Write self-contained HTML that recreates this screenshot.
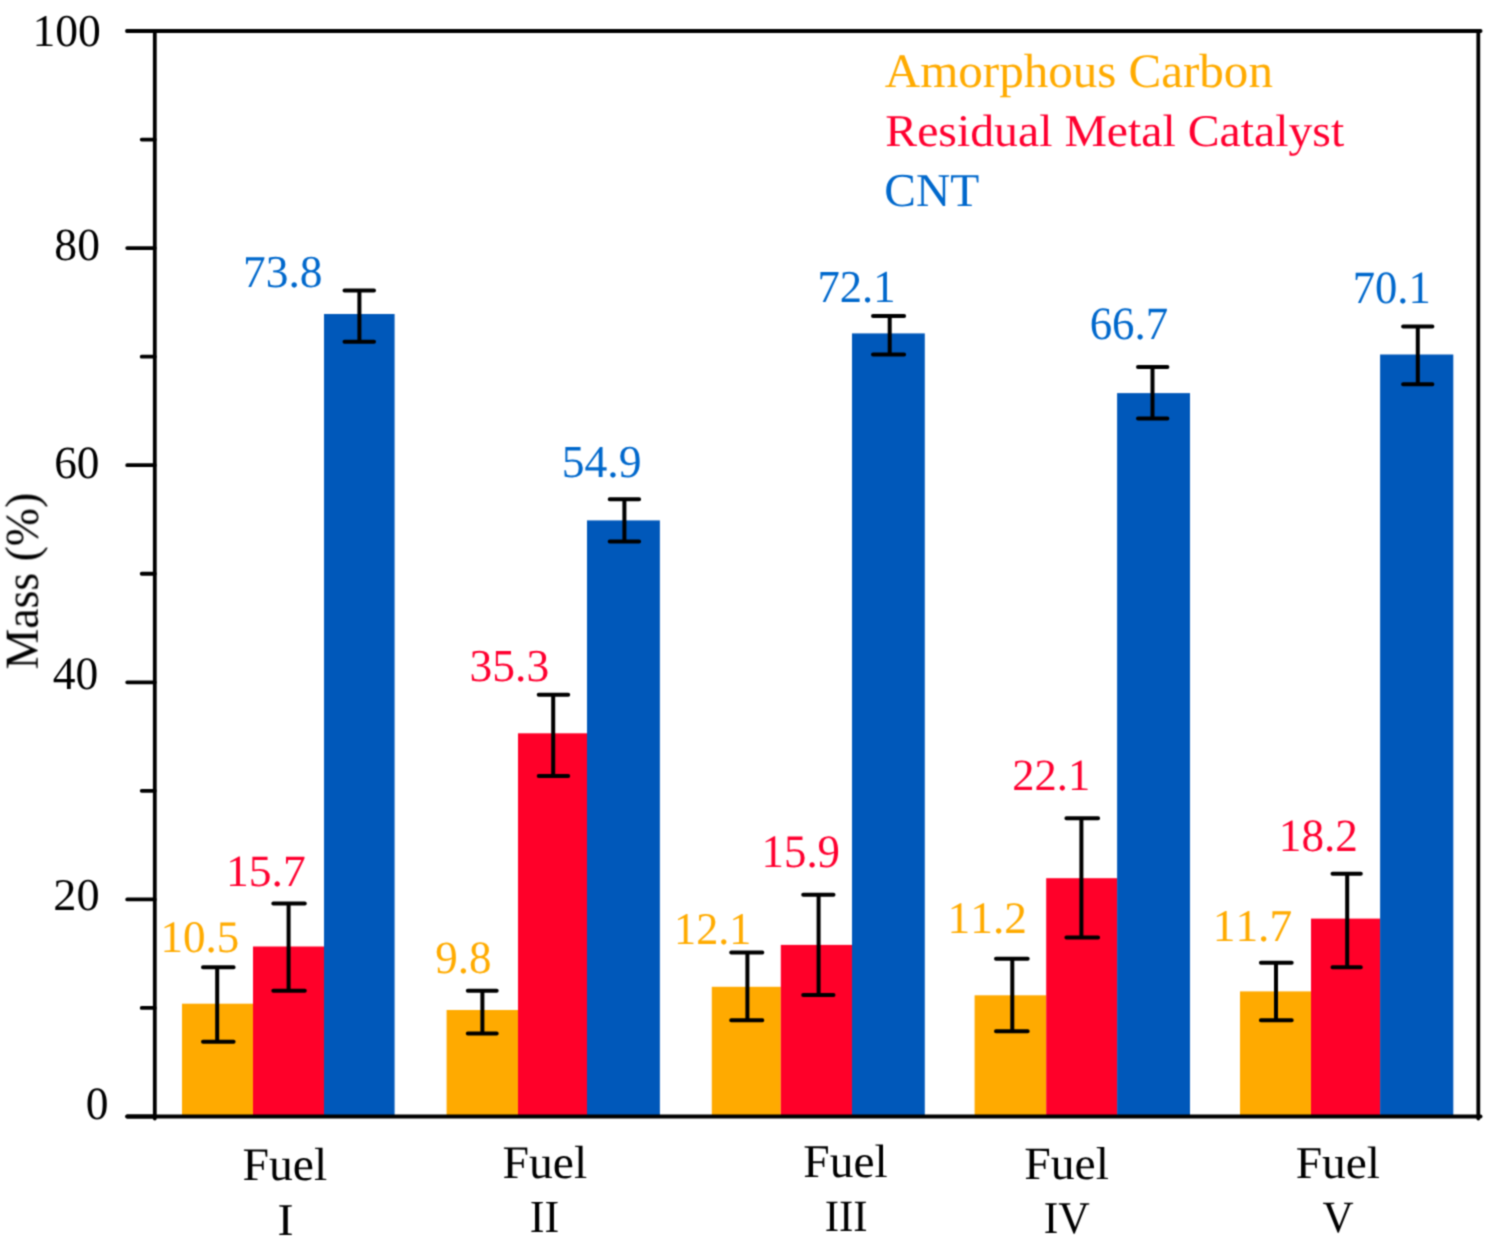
<!DOCTYPE html>
<html><head><meta charset="utf-8"><title>Mass chart</title>
<style>
html,body{margin:0;padding:0;background:#fff;}
body{width:1498px;height:1244px;overflow:hidden;}
svg{display:block;}
text{font-family:"Liberation Serif",serif;font-kerning:none;text-rendering:geometricPrecision;}
</style></head><body>
<svg width="1498" height="1244" viewBox="0 0 1498 1244">
<defs><filter id="soft" x="0" y="0" width="1498" height="1244" filterUnits="userSpaceOnUse" color-interpolation-filters="sRGB"><feConvolveMatrix order="3" kernelMatrix="0.04387 0.12171 0.04387 0.12171 0.33767 0.12171 0.04387 0.12171 0.04387" edgeMode="duplicate"/></filter></defs>
<g filter="url(#soft)">
<rect width="1498" height="1244" fill="#fff"/>
<rect x="182.0" y="1003.7" width="71.00" height="112.80" fill="#FFAA00"/>
<rect x="253.0" y="946.5" width="71.00" height="170.00" fill="#FF0029"/>
<rect x="324.0" y="314.0" width="70.60" height="802.50" fill="#0058BA"/>
<rect x="446.6" y="1010.0" width="71.40" height="106.50" fill="#FFAA00"/>
<rect x="518.0" y="733.3" width="69.00" height="383.20" fill="#FF0029"/>
<rect x="587.0" y="520.4" width="72.90" height="596.10" fill="#0058BA"/>
<rect x="711.8" y="986.8" width="69.00" height="129.70" fill="#FFAA00"/>
<rect x="780.8" y="944.9" width="71.20" height="171.60" fill="#FF0029"/>
<rect x="852.0" y="333.4" width="72.80" height="783.10" fill="#0058BA"/>
<rect x="974.6" y="995.3" width="71.60" height="121.20" fill="#FFAA00"/>
<rect x="1046.2" y="878.2" width="70.90" height="238.30" fill="#FF0029"/>
<rect x="1117.1" y="393.1" width="72.90" height="723.40" fill="#0058BA"/>
<rect x="1240.0" y="991.4" width="71.00" height="125.10" fill="#FFAA00"/>
<rect x="1311.0" y="918.6" width="69.10" height="197.90" fill="#FF0029"/>
<rect x="1380.1" y="354.5" width="73.20" height="762.00" fill="#0058BA"/>
<g stroke="#000" stroke-width="4.0" fill="none" stroke-linecap="round">
<path d="M217.2 967.2V1041.7M203.00 967.2H233.60M203.00 1041.7H233.60"/>
<path d="M288.6 903.4V990.7M273.30 903.4H304.80M273.30 990.7H304.80"/>
<path d="M359.4 290.6V341.7M344.50 290.6H374.00M344.50 341.7H374.00"/>
<path d="M482.4 990.7V1033.5M467.80 990.7H496.70M467.80 1033.5H496.70"/>
<path d="M553.2 694.7V776.0M538.70 694.7H568.20M538.70 776.0H568.20"/>
<path d="M624.4 499.2V541.4M609.70 499.2H639.10M609.70 541.4H639.10"/>
<path d="M747.4 952.4V1020.3M731.20 952.4H762.30M731.20 1020.3H762.30"/>
<path d="M818.6 894.8V995.0M803.20 894.8H833.50M803.20 995.0H833.50"/>
<path d="M889.7 316.0V354.4M873.00 316.0H904.10M873.00 354.4H904.10"/>
<path d="M1012.3 958.8V1031.2M996.00 958.8H1027.70M996.00 1031.2H1027.70"/>
<path d="M1081.4 818.3V937.4M1066.40 818.3H1098.10M1066.40 937.4H1098.10"/>
<path d="M1152.5 367.0V418.4M1138.00 367.0H1167.40M1138.00 418.4H1167.40"/>
<path d="M1276.0 962.7V1020.3M1260.90 962.7H1291.70M1260.90 1020.3H1291.70"/>
<path d="M1347.2 873.7V967.3M1332.50 873.7H1360.80M1332.50 967.3H1360.80"/>
<path d="M1417.8 326.6V384.2M1403.10 326.6H1432.40M1403.10 384.2H1432.40"/>
</g>
<g stroke="#000" stroke-width="3.8" fill="none" stroke-linecap="round">
<path d="M154.8 31.0V1118.60"/>
<path d="M1478.3 31.0V1118.60"/>
<path d="M127.20 31.0H1480.60"/>
<path d="M127.20 1116.5H1480.60"/>
<path d="M127.2 1116.50H154.8M141.70000000000002 1007.95H154.8M127.2 899.40H154.8M141.70000000000002 790.85H154.8M127.2 682.30H154.8M141.70000000000002 573.75H154.8M127.2 465.20H154.8M141.70000000000002 356.65H154.8M127.2 248.10H154.8M141.70000000000002 139.55H154.8M127.2 31.00H154.8"/>
</g>
<text transform="translate(32.39 46.26) scale(1.0030 1)" font-size="45.49" fill="#000">100</text>
<text transform="translate(54.36 260.05) scale(0.9952 1)" font-size="45.79" fill="#000">80</text>
<text transform="translate(54.15 477.85) scale(0.9846 1)" font-size="46.09" fill="#000">60</text>
<text transform="translate(52.81 688.85) scale(0.9814 1)" font-size="46.38" fill="#000">40</text>
<text transform="translate(53.27 909.66) scale(1.0210 1)" font-size="45.35" fill="#000">20</text>
<text transform="translate(85.77 1119.35) scale(0.9881 1)" font-size="46.09" fill="#000">0</text>
<text transform="translate(884.72 86.70) scale(1.0213 1)" font-size="48.02" fill="#FFAB00">Amorphous Carbon</text>
<text transform="translate(885.32 146.10) scale(1.0539 1)" font-size="45.32" fill="#FF0030">Residual Metal Catalyst</text>
<text transform="translate(884.25 205.60) scale(1.0073 1)" font-size="47.12" fill="#0068CC">CNT</text>
<text transform="translate(243.00 287.05) scale(0.9957 1)" font-size="45.64" fill="#0068CC">73.8</text>
<text transform="translate(225.89 886.27) scale(1.0219 1)" font-size="44.64" fill="#FF0030">15.7</text>
<text transform="translate(160.44 951.76) scale(0.9964 1)" font-size="45.20" fill="#FFAB00">10.5</text>
<text transform="translate(469.42 680.65) scale(0.9975 1)" font-size="45.69" fill="#FF0030">35.3</text>
<text transform="translate(561.75 477.45) scale(0.9983 1)" font-size="45.69" fill="#0068CC">54.9</text>
<text transform="translate(435.35 972.75) scale(0.9736 1)" font-size="46.23" fill="#FFAB00">9.8</text>
<text transform="translate(761.56 867.44) scale(0.9659 1)" font-size="46.43" fill="#FF0030">15.9</text>
<text transform="translate(674.12 944.16) scale(0.9735 1)" font-size="45.40" fill="#FFAB00">12.1</text>
<text transform="translate(817.46 302.25) scale(0.9770 1)" font-size="45.69" fill="#0068CC">72.1</text>
<text transform="translate(1012.34 789.57) scale(0.9972 1)" font-size="44.66" fill="#FF0030">22.1</text>
<text transform="translate(947.62 932.66) scale(1.0045 1)" font-size="45.10" fill="#FFAB00">11.2</text>
<text transform="translate(1089.67 339.04) scale(0.9694 1)" font-size="46.28" fill="#0068CC">66.7</text>
<text transform="translate(1278.82 850.75) scale(0.9786 1)" font-size="46.23" fill="#FF0030">18.2</text>
<text transform="translate(1212.71 940.86) scale(0.9965 1)" font-size="45.53" fill="#FFAB00">11.7</text>
<text transform="translate(1352.66 303.05) scale(0.9687 1)" font-size="46.08" fill="#0068CC">70.1</text>
<text transform="translate(242.43 1180.10) scale(1.0231 1)" font-size="46.58" fill="#000">Fuel</text>
<text transform="translate(277.56 1234.90) scale(1.0614 1)" font-size="45.36" fill="#000">I</text>
<text transform="translate(502.43 1178.00) scale(1.0231 1)" font-size="46.58" fill="#000">Fuel</text>
<text transform="translate(529.80 1232.40) scale(0.9620 1)" font-size="45.97" fill="#000">II</text>
<text transform="translate(803.33 1177.20) scale(1.0115 1)" font-size="46.89" fill="#000">Fuel</text>
<text transform="translate(824.65 1231.30) scale(0.9611 1)" font-size="44.75" fill="#000">III</text>
<text transform="translate(1024.23 1179.00) scale(1.0345 1)" font-size="46.12" fill="#000">Fuel</text>
<text transform="translate(1043.72 1233.10) scale(0.9593 1)" font-size="45.51" fill="#000">IV</text>
<text transform="translate(1295.63 1177.70) scale(1.0421 1)" font-size="45.51" fill="#000">Fuel</text>
<text transform="translate(1322.62 1232.20) scale(0.9645 1)" font-size="44.75" fill="#000">V</text>
<text transform="translate(37.7 669.42) rotate(-90) scale(0.9701 1)" font-size="47.19" fill="#000">Mass (%)</text>
</g></svg></body></html>
